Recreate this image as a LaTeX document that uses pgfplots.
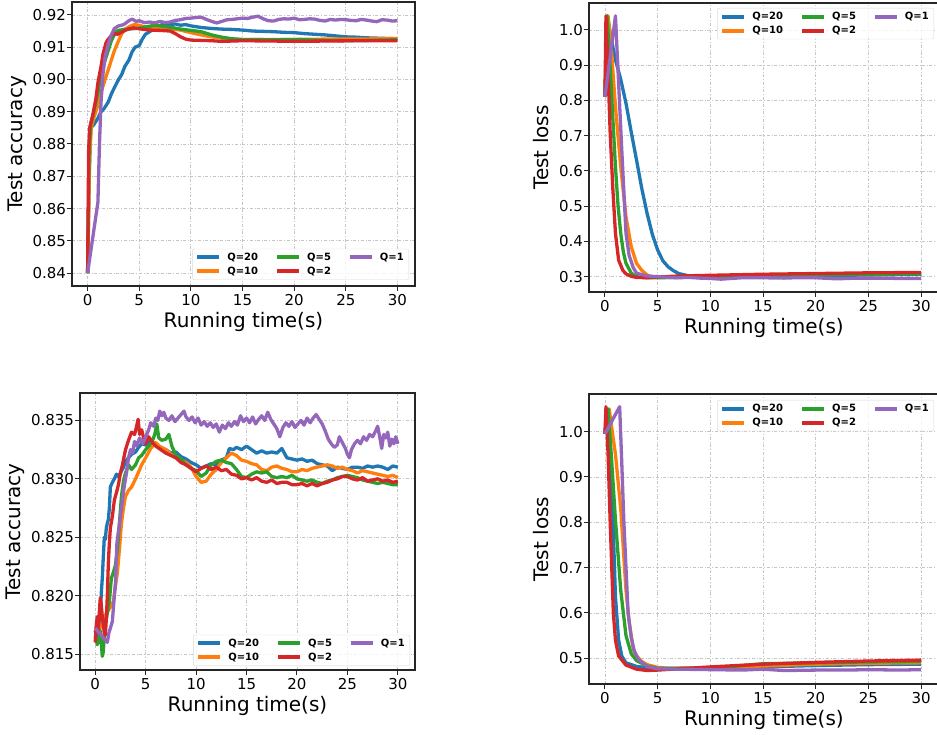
\documentclass[border=0pt]{standalone}
\usepackage{pgfplots}
\pgfplotsset{compat=1.18}
\usepackage{fontspec}
\setmainfont{DejaVu Sans}
\definecolor{c0}{HTML}{1F77B4}
\definecolor{c1}{HTML}{FF7F0E}
\definecolor{c2}{HTML}{2CA02C}
\definecolor{c3}{HTML}{D62728}
\definecolor{c4}{HTML}{9467BD}
\pgfplotsset{
 myax/.style={
  scale only axis,
  anchor=south west,
  xmin=-1.51, xmax=31.7,
  xtick={0,5,10,15,20,25,30},
  tick align=outside, tick pos=left,
  major tick length=5pt,
  every tick/.style={black!85, line width=1pt},
  axis line style={black!85, line width=1.1pt},
  grid=major,
  major grid style={gray!45, dash dot, line width=0.8pt},
  /pgf/number format/assume math mode=true,
  ticklabel style={font=\fontsize{15}{18}\selectfont},
  yticklabel style={xshift=2.5pt},
  label style={font=\fontsize{20}{24}\selectfont},
  xlabel={Running time(s)},
  every axis plot/.append style={line width=3.3pt, line join=round},
  legend columns=3,
  legend cell align=left,
  legend style={font=\fontsize{10}{12}\selectfont\bfseries, draw=gray!30, rounded corners=2pt, fill=white, fill opacity=0.8, text opacity=1, inner xsep=3pt, inner ysep=2pt, nodes={inner sep=2pt},
    /tikz/every odd column/.append style={column sep=4pt},
    /tikz/every even column/.append style={column sep=15pt}, row sep=1pt},
  legend image code/.code={\draw[#1, line width=4pt] (0pt,0pt) -- (22pt,0pt);},
 }
}
\newcommand{\mylegend}{%
  \addlegendimage{c0}\addlegendentry{Q=20}
  \addlegendimage{c2}\addlegendentry{Q=5}
  \addlegendimage{c4}\addlegendentry{Q=1}
  \addlegendimage{c1}\addlegendentry{Q=10}
  \addlegendimage{c3}\addlegendentry{Q=2}
}
\begin{document}
\begin{tikzpicture}
% ---------------- top left
\begin{axis}[myax, at={(72pt,448pt)}, width=343pt, height=284pt,
  ymin=0.836, ymax=0.924, ytick={0.84,0.85,0.86,0.87,0.88,0.89,0.90,0.91,0.92},
  yticklabel style={/pgf/number format/.cd, fixed, fixed zerofill, precision=2},
  ylabel={Test accuracy}, ylabel shift=-1pt,
  legend style={at={(1,0)}, anchor=south east, xshift=-6pt, yshift=6pt}]
\addplot[c0, forget plot] coordinates {(0,0.840)(0.15,0.870)(0.3,0.885)(0.6,0.886)(1.0,0.888)(1.3,0.890)(1.6,0.891)(2.0,0.893)(2.3,0.8955)(2.6,0.8975)(3.0,0.900)(3.3,0.9015)(3.6,0.904)(4.0,0.906)(4.3,0.9085)(4.6,0.910)(5.0,0.9105)(5.3,0.9125)(5.6,0.914)(6.0,0.9148)(6.5,0.9158)(7.0,0.9167)(7.5,0.9174)(8.0,0.917)(8.5,0.9172)(9.0,0.9168)(9.5,0.917)(10,0.9166)(11,0.9161)(12,0.9158)(13,0.9156)(14,0.9155)(15,0.9153)(16,0.915)(17,0.9149)(18,0.9148)(19,0.9146)(20,0.9145)(21,0.9142)(22,0.914)(23,0.9138)(24,0.9135)(25,0.9132)(26,0.9131)(27,0.9129)(28,0.9128)(29,0.9127)(30,0.9126)};
\addplot[c1, forget plot] coordinates {(0,0.840)(0.2,0.875)(0.35,0.885)(0.6,0.888)(1.0,0.892)(1.3,0.896)(1.6,0.899)(2.0,0.903)(2.3,0.906)(2.6,0.909)(3.0,0.912)(3.3,0.9142)(3.6,0.9155)(4.0,0.9163)(4.5,0.917)(5.0,0.9168)(5.5,0.9163)(6.0,0.916)(7,0.9158)(8,0.9157)(9,0.9153)(10,0.9145)(11,0.9138)(12,0.9132)(13,0.9128)(14,0.9125)(15,0.9123)(17,0.9124)(20,0.9124)(23,0.9125)(26,0.9125)(28,0.9126)(30,0.9127)};
\addplot[c2, forget plot] coordinates {(0,0.840)(0.15,0.878)(0.3,0.886)(0.6,0.890)(1.0,0.896)(1.3,0.901)(1.6,0.905)(2.0,0.909)(2.3,0.912)(2.7,0.9147)(3.0,0.9152)(3.5,0.9155)(4.0,0.9156)(5.0,0.9159)(6.0,0.9165)(6.5,0.9168)(7.0,0.9166)(8.0,0.9162)(9.0,0.9156)(10,0.9152)(11,0.9148)(12,0.9138)(13,0.9131)(14,0.9126)(15,0.9124)(18,0.9123)(20,0.9124)(23,0.9121)(25,0.912)(27,0.9121)(30,0.9123)};
\addplot[c3, forget plot] coordinates {(0,0.840)(0.1,0.878)(0.2,0.885)(0.5,0.889)(0.8,0.894)(1.0,0.899)(1.3,0.904)(1.5,0.908)(1.8,0.9115)(2.0,0.9125)(2.3,0.9135)(2.6,0.9142)(2.9,0.914)(3.2,0.9145)(3.5,0.915)(4.0,0.9157)(4.5,0.916)(5.0,0.9157)(6.0,0.9153)(7.0,0.9152)(8.0,0.915)(8.5,0.9142)(9.0,0.9132)(9.5,0.9125)(10,0.9122)(11,0.9121)(12,0.912)(13,0.9118)(14,0.9119)(15,0.912)(18,0.9119)(20,0.9118)(23,0.9119)(26,0.912)(30,0.912)};
\addplot[c4, forget plot] coordinates {(0,0.840)(1.0,0.862)(1.15,0.880)(1.3,0.893)(1.5,0.902)(1.7,0.907)(2.0,0.911)(2.3,0.9138)(2.6,0.9158)(3.0,0.9166)(3.5,0.917)(4.0,0.9182)(4.3,0.9187)(4.7,0.918)(5.0,0.9182)(5.5,0.9176)(6.0,0.9178)(6.5,0.9175)(7,0.918)(7.5,0.9176)(8,0.9178)(8.5,0.9183)(9,0.9185)(9.5,0.9189)(10,0.919)(10.5,0.9192)(11,0.9193)(11.5,0.9186)(12,0.918)(12.5,0.9175)(13,0.918)(13.5,0.9185)(14,0.9186)(15,0.919)(15.5,0.9189)(16,0.9193)(16.5,0.9196)(17,0.9188)(17.5,0.9182)(18,0.9181)(18.5,0.9186)(19,0.9188)(19.5,0.9187)(20,0.919)(20.5,0.9185)(21,0.9186)(21.5,0.9188)(22,0.9187)(22.5,0.9183)(23,0.9181)(23.5,0.9186)(24,0.9184)(24.5,0.9186)(25,0.9185)(25.5,0.9183)(26,0.9182)(26.5,0.9186)(27,0.9184)(27.5,0.9181)(28,0.9179)(28.5,0.9185)(29,0.9184)(29.5,0.9181)(30,0.9182)};
\mylegend
\end{axis}
% ---------------- top right
\begin{axis}[myax, at={(589pt,442pt)}, width=350pt, height=289pt,
  ymin=0.2566, ymax=1.0766, ytick={0.3,0.4,0.5,0.6,0.7,0.8,0.9,1.0},
  yticklabel style={/pgf/number format/.cd, fixed, fixed zerofill, precision=1},
  ylabel={Test loss}, ylabel shift=3pt,
  legend style={at={(1,1)}, anchor=north east, xshift=-5pt, yshift=-5pt}]
\addplot[c0, forget plot] coordinates {(0,0.81)(0.25,1.04)(0.5,0.99)(1.0,0.915)(1.5,0.86)(2.0,0.792)(2.5,0.71)(3.0,0.631)(3.5,0.55)(4.0,0.48)(4.5,0.42)(5.0,0.376)(5.5,0.345)(6.0,0.328)(6.5,0.317)(7.0,0.309)(8,0.302)(9,0.300)(10,0.300)(15,0.301)(20,0.303)(25,0.305)(30,0.307)};
\addplot[c1, forget plot] coordinates {(0,0.81)(0.3,1.04)(0.6,0.95)(1.0,0.782)(1.5,0.612)(2.0,0.47)(2.5,0.385)(3.0,0.338)(3.5,0.318)(4.0,0.305)(4.5,0.299)(5,0.298)(7,0.298)(10,0.300)(15,0.303)(20,0.306)(25,0.308)(30,0.310)};
\addplot[c2, forget plot] coordinates {(0,0.81)(0.2,1.04)(0.5,0.896)(0.75,0.75)(1.0,0.612)(1.25,0.5)(1.5,0.423)(1.75,0.37)(2.0,0.338)(2.5,0.31)(3.0,0.30)(4.0,0.297)(5,0.297)(10,0.300)(15,0.303)(20,0.305)(25,0.307)(30,0.308)};
\addplot[c3, forget plot] coordinates {(0,0.81)(0.1,1.04)(0.3,0.88)(0.5,0.707)(0.75,0.55)(1.0,0.423)(1.3,0.347)(1.7,0.318)(2.0,0.308)(2.5,0.301)(3.0,0.298)(4.0,0.297)(5,0.299)(7,0.302)(10,0.304)(15,0.307)(20,0.309)(25,0.311)(30,0.312)};
\addplot[c4, forget plot] coordinates {(0,0.81)(1.0,1.04)(1.3,0.849)(1.6,0.659)(2.0,0.423)(2.3,0.36)(2.7,0.325)(3.0,0.31)(4.0,0.302)(5,0.300)(6,0.298)(7,0.297)(8,0.298)(9,0.296)(10,0.295)(11,0.293)(12,0.295)(13,0.297)(15,0.297)(17,0.296)(18,0.297)(20,0.297)(22,0.294)(24,0.296)(26,0.296)(28,0.295)(30,0.295)};
\mylegend
\end{axis}
% ---------------- bottom left
\begin{axis}[myax, at={(80pt,64pt)}, width=335pt, height=277pt,
  ymin=0.81363, ymax=0.83735, ytick={0.815,0.820,0.825,0.830,0.835},
  yticklabel style={/pgf/number format/.cd, fixed, fixed zerofill, precision=3},
  ylabel={Test accuracy}, ylabel shift=-1pt,
  legend style={at={(1,0)}, anchor=south east, xshift=-5pt, yshift=4pt}]
\addplot[c0, forget plot] coordinates {(0,0.8170)(0.15,0.8162)(0.3,0.8178)(0.45,0.8172)(0.6,0.8202)(0.7,0.8215)(0.8,0.8233)(0.9,0.8250)(1.0,0.8248)(1.1,0.8258)(1.2,0.8262)(1.3,0.8265)(1.4,0.8275)(1.5,0.8293)(1.7,0.8297)(1.9,0.8300)(2.1,0.8304)(2.3,0.8302)(2.5,0.8305)(2.8,0.8310)(3.0,0.8315)(3.3,0.8318)(3.6,0.8321)(4.0,0.8323)(4.3,0.8327)(4.6,0.8330)(5.0,0.8329)(5.5,0.8333)(6.0,0.8329)(6.5,0.8327)(7.0,0.8325)(7.5,0.8322)(8.0,0.8323)(8.5,0.8319)(9.0,0.8317)(9.5,0.8314)(10,0.8312)(10.5,0.8309)(11,0.8311)(11.5,0.8313)(12,0.8312)(12.5,0.8316)(13,0.8318)(13.3,0.8326)(13.7,0.8325)(14,0.8327)(14.5,0.8325)(15,0.8328)(15.5,0.8325)(16,0.8322)(16.5,0.8324)(17,0.8322)(17.5,0.8323)(18,0.8322)(18.5,0.8326)(19,0.8318)(19.5,0.8317)(20,0.8316)(20.5,0.8317)(21,0.8315)(21.5,0.8316)(22,0.8313)(22.5,0.8312)(23,0.8311)(23.5,0.8307)(24,0.8310)(24.5,0.8309)(25,0.8308)(25.5,0.8310)(26,0.8310)(26.5,0.8309)(27,0.8311)(27.5,0.8310)(28,0.8311)(28.5,0.8310)(29,0.8308)(29.5,0.8311)(30,0.8310)};
\addplot[c1, forget plot] coordinates {(0,0.8170)(0.3,0.8168)(0.6,0.8175)(0.9,0.8182)(1.2,0.8186)(1.5,0.8190)(1.8,0.8195)(2.0,0.8208)(2.2,0.8220)(2.4,0.8240)(2.6,0.8262)(2.8,0.8275)(3.0,0.8285)(3.3,0.8290)(3.6,0.8293)(4.0,0.8300)(4.3,0.8306)(4.6,0.8312)(5.0,0.8318)(5.5,0.8326)(6.0,0.8331)(6.5,0.8327)(7.0,0.8325)(7.5,0.8321)(8.0,0.8318)(8.5,0.8316)(9.0,0.8314)(9.5,0.8310)(10,0.8302)(10.5,0.8297)(11,0.8298)(11.5,0.8304)(12,0.8308)(12.5,0.8314)(13,0.8318)(13.5,0.8322)(14,0.8320)(14.5,0.8316)(15,0.8315)(15.5,0.8313)(16,0.8312)(16.5,0.8308)(17,0.8307)(17.5,0.8310)(18,0.8311)(18.5,0.8309)(19,0.8308)(19.5,0.8306)(20,0.8306)(20.5,0.8308)(21,0.8307)(21.5,0.8309)(22,0.8310)(22.5,0.8311)(23,0.8312)(23.5,0.8311)(24,0.8309)(24.5,0.8310)(25,0.8308)(25.5,0.8307)(26,0.8305)(26.5,0.8307)(27,0.8306)(27.5,0.8305)(28,0.8304)(28.5,0.8303)(29,0.8302)(29.5,0.8303)(30,0.8301)};
\addplot[c2, forget plot] coordinates {(0,0.8165)(0.2,0.8158)(0.4,0.8163)(0.5,0.8170)(0.6,0.8160)(0.7,0.8148)(0.8,0.8152)(0.9,0.8165)(1.0,0.8175)(1.2,0.8185)(1.4,0.8195)(1.6,0.8215)(1.8,0.8220)(2.0,0.8226)(2.2,0.8240)(2.4,0.8262)(2.6,0.8285)(2.8,0.8298)(3.0,0.8305)(3.3,0.8312)(3.6,0.8308)(4.0,0.8312)(4.3,0.8318)(4.6,0.8320)(5.0,0.8325)(5.3,0.8328)(5.6,0.8331)(5.9,0.8338)(6.1,0.8347)(6.3,0.8335)(6.6,0.8333)(7.0,0.8334)(7.3,0.8338)(7.6,0.8328)(8.0,0.8320)(8.5,0.8317)(9.0,0.8312)(9.5,0.8309)(10,0.8307)(10.5,0.8302)(11,0.8305)(11.5,0.8312)(12,0.8315)(12.5,0.8316)(13,0.8314)(13.5,0.8313)(14,0.8308)(14.5,0.8302)(15,0.8301)(15.5,0.8304)(16,0.8306)(16.5,0.8305)(17,0.8306)(17.5,0.8302)(18,0.8301)(18.5,0.8302)(19,0.8301)(19.5,0.8303)(20,0.8300)(20.5,0.8299)(21,0.8298)(21.5,0.8299)(22,0.8297)(22.5,0.8296)(23,0.8298)(23.5,0.8299)(24,0.8301)(24.5,0.8302)(25,0.8303)(25.5,0.8302)(26,0.8301)(26.5,0.8299)(27,0.8298)(27.5,0.8297)(28,0.8296)(28.5,0.8297)(29,0.8296)(29.5,0.8295)(30,0.8295)};
\addplot[c3, forget plot] coordinates {(0,0.8160)(0.1,0.8175)(0.2,0.8182)(0.3,0.8168)(0.4,0.8185)(0.5,0.8198)(0.6,0.8192)(0.7,0.8182)(0.8,0.8175)(0.9,0.8168)(1.0,0.8166)(1.1,0.8180)(1.2,0.8200)(1.3,0.8228)(1.4,0.8245)(1.5,0.8258)(1.7,0.8268)(1.9,0.8282)(2.1,0.8288)(2.3,0.8295)(2.5,0.8305)(2.7,0.8312)(3.0,0.8325)(3.3,0.8333)(3.6,0.8340)(3.9,0.8338)(4.1,0.8345)(4.25,0.8351)(4.4,0.8338)(4.6,0.8342)(4.8,0.8335)(5.0,0.8330)(5.3,0.8336)(5.6,0.8332)(6.0,0.8328)(6.5,0.8325)(7.0,0.8322)(7.5,0.8320)(8.0,0.8318)(8.5,0.8314)(9.0,0.8312)(9.5,0.8309)(10,0.8306)(10.5,0.8309)(11,0.8311)(11.5,0.8308)(12,0.8310)(12.5,0.8307)(13,0.8308)(13.5,0.8304)(14,0.8303)(14.5,0.8300)(15,0.8301)(15.5,0.8299)(16,0.8301)(16.5,0.8298)(17,0.8297)(17.5,0.8299)(18,0.8296)(18.5,0.8297)(19,0.8297)(19.5,0.8295)(20,0.8295)(20.5,0.8296)(21,0.8294)(21.5,0.8296)(22,0.8294)(22.5,0.8296)(23,0.8297)(23.5,0.8299)(24,0.8300)(24.5,0.8302)(25,0.8302)(25.5,0.8300)(26,0.8299)(26.5,0.8301)(27,0.8298)(27.5,0.8299)(28,0.8300)(28.5,0.8298)(29,0.8299)(29.5,0.8297)(30,0.8298)};
\addplot[c4, forget plot] coordinates {(0,0.8172)(1.2,0.8160)(1.35,0.8168)(1.5,0.8172)(1.7,0.8178)(1.85,0.8195)(2.0,0.8210)(2.15,0.8245)(2.3,0.8255)(2.5,0.8268)(2.7,0.8282)(2.9,0.8295)(3.1,0.8305)(3.3,0.8318)(3.5,0.8325)(3.7,0.8322)(3.9,0.8332)(4.1,0.8328)(4.4,0.8335)(4.7,0.8330)(5.0,0.8336)(5.3,0.8342)(5.5,0.8348)(5.8,0.8345)(6.0,0.8352)(6.2,0.8350)(6.4,0.8358)(6.6,0.8354)(6.8,0.8357)(7.0,0.8352)(7.3,0.8350)(7.6,0.8354)(7.9,0.8349)(8.2,0.8352)(8.5,0.8355)(8.8,0.8358)(9.0,0.8353)(9.3,0.8350)(9.6,0.8353)(9.9,0.8348)(10.2,0.8352)(10.5,0.8346)(10.8,0.8349)(11.1,0.8345)(11.4,0.8348)(11.7,0.8344)(12.0,0.8347)(12.3,0.8340)(12.6,0.8346)(12.9,0.8343)(13.2,0.8348)(13.5,0.8345)(13.8,0.8349)(14.1,0.8346)(14.4,0.8354)(14.7,0.8349)(15.0,0.8352)(15.3,0.8348)(15.6,0.8353)(15.9,0.8347)(16.2,0.8351)(16.5,0.8354)(16.8,0.8350)(17.1,0.8357)(17.4,0.8351)(17.7,0.8347)(18.0,0.8343)(18.3,0.8336)(18.6,0.8344)(18.9,0.8348)(19.2,0.8345)(19.5,0.8349)(19.8,0.8344)(20.1,0.8347)(20.4,0.8350)(20.7,0.8346)(21.0,0.8352)(21.3,0.8348)(21.6,0.8352)(21.9,0.8355)(22.2,0.8351)(22.5,0.8347)(22.8,0.8341)(23.1,0.8334)(23.4,0.8330)(23.7,0.8327)(24.0,0.8329)(24.2,0.8336)(24.5,0.8331)(24.8,0.8326)(25.0,0.8321)(25.2,0.8318)(25.4,0.8325)(25.7,0.8330)(26.0,0.8333)(26.3,0.8330)(26.6,0.8336)(26.9,0.8333)(27.2,0.8338)(27.5,0.8336)(27.8,0.8341)(28.0,0.8345)(28.2,0.8336)(28.4,0.8326)(28.6,0.8338)(28.8,0.8335)(29.0,0.8340)(29.2,0.8328)(29.4,0.8334)(29.6,0.8330)(29.8,0.8336)(30.0,0.8330)};
\mylegend
\end{axis}
% ---------------- bottom right
\begin{axis}[myax, at={(589pt,50pt)}, width=350pt, height=290pt,
  ymin=0.4433, ymax=1.083, ytick={0.5,0.6,0.7,0.8,0.9,1.0},
  yticklabel style={/pgf/number format/.cd, fixed, fixed zerofill, precision=1},
  ylabel={Test loss}, ylabel shift=3pt,
  legend style={at={(1,1)}, anchor=north east, xshift=-5pt, yshift=-6pt}]
\addplot[c0, forget plot] coordinates {(0,0.995)(0.2,1.05)(0.45,0.98)(0.7,0.85)(1.0,0.636)(1.3,0.54)(1.6,0.505)(2.0,0.49)(3.0,0.482)(5,0.477)(10,0.478)(15,0.481)(20,0.484)(25,0.486)(30,0.487)};
\addplot[c1, forget plot] coordinates {(0,0.995)(0.4,1.05)(0.7,1.0)(1.0,0.95)(1.5,0.83)(2.0,0.65)(2.3,0.58)(2.7,0.52)(3.0,0.505)(3.5,0.493)(4.0,0.486)(5,0.48)(6,0.478)(10,0.479)(15,0.483)(20,0.487)(25,0.489)(30,0.49)};
\addplot[c2, forget plot] coordinates {(0,0.995)(0.3,1.05)(0.6,0.95)(1.0,0.805)(1.5,0.65)(2.0,0.55)(2.5,0.51)(3.0,0.495)(4.0,0.483)(5,0.478)(10,0.478)(15,0.488)(20,0.49)(25,0.492)(30,0.493)};
\addplot[c3, forget plot] coordinates {(0,0.995)(0.1,1.055)(0.3,0.95)(0.5,0.8)(0.8,0.6)(1.0,0.54)(1.3,0.505)(2.0,0.485)(3.0,0.476)(4.0,0.473)(5,0.474)(10,0.481)(15,0.487)(20,0.491)(25,0.494)(30,0.496)};
\addplot[c4, forget plot] coordinates {(0,0.995)(1.4,1.055)(1.6,0.93)(1.8,0.8)(2.0,0.7)(2.2,0.6)(2.5,0.545)(2.8,0.515)(3.2,0.497)(4,0.482)(5,0.477)(7,0.476)(10,0.475)(13,0.474)(15,0.476)(17,0.473)(20,0.474)(23,0.474)(25,0.475)(28,0.474)(30,0.475)};
\mylegend
\end{axis}
\pgfresetboundingbox
\path[use as bounding box] (0pt,0pt) rectangle (937pt,734pt);
\end{tikzpicture}
\end{document}
